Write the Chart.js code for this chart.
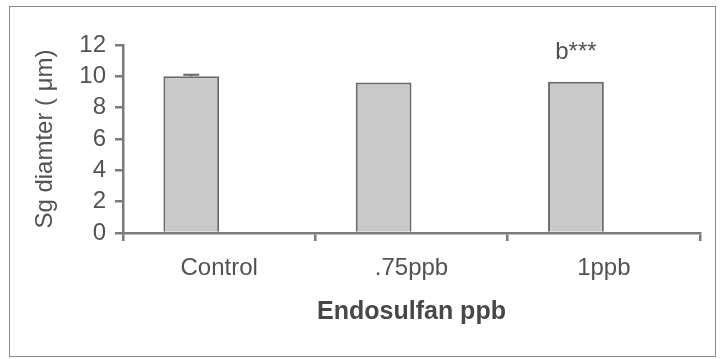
<!DOCTYPE html>
<html>
<head>
<meta charset="utf-8">
<script src="https://cdn.jsdelivr.net/npm/chart.js@4/dist/chart.umd.min.js"></script>
<style>
    body { margin: 0; background: #fff; }
    #wrap { position: relative; width: 723px; height: 359px; }
    #frame { position: absolute; left: 9px; top: 6px; width: 705px; height: 349px; border: 1.5px solid #8a8a8a; pointer-events: none; }
</style>
</head>
<body>
<div id="wrap">
    <canvas id="chart" width="723" height="359"></canvas>
    <div id="frame"></div>
</div>
<script>
const categories = ['Control', '.75ppb', '1ppb'];
const diameter = [10.0, 9.6, 9.65];
const errors = [0.1, 0, 0];
const marks = ['', '', 'b***'];
const yTicks = [0, 2, 4, 6, 8, 10, 12];

const textColor = '#525252';
const axisColor = '#7a7a7a';
const fontFamily = '"Liberation Sans", Arial, sans-serif';

// error cap + significance letters above the bars
const barExtras = {
    id: 'barExtras',
    afterDatasetsDraw(chart) {
        const ctx = chart.ctx;
        const y = chart.scales.y;
        const meta = chart.getDatasetMeta(0);
        ctx.save();
        meta.data.forEach((bar, i) => {
            if (errors[i] > 0) {
                const top = y.getPixelForValue(diameter[i] + errors[i]);
                ctx.strokeStyle = '#666';
                ctx.lineWidth = 2;
                ctx.beginPath();
                ctx.moveTo(bar.x, bar.y);
                ctx.lineTo(bar.x, top);
                ctx.moveTo(bar.x - 8, top);
                ctx.lineTo(bar.x + 8, top);
                ctx.stroke();
            }
            if (marks[i]) {
                ctx.fillStyle = textColor;
                ctx.font = '24px ' + fontFamily;
                ctx.textAlign = 'center';
                ctx.textBaseline = 'middle';
                ctx.fillText(marks[i], bar.x, bar.y - 29);
            }
        });
        ctx.restore();
    }
};

new Chart(document.getElementById('chart'), {
    type: 'bar',
    data: {
        labels: categories,
        datasets: [
            {
                data: diameter,
                backgroundColor: '#c9c9c9',
                borderColor: '#6a6a6a',
                borderWidth: 2,
                categoryPercentage: 0.58,
                barPercentage: 1.0
            },
            {
                // empty second series, keeps the bars left of the category centre
                data: [null, null, null],
                categoryPercentage: 0.58,
                barPercentage: 1.0
            }
        ]
    },
    options: {
        responsive: false,
        animation: false,
        layout: { padding: { left: 10, right: 23, top: 45, bottom: 0 } },
        plugins: {
            legend: { display: false },
            tooltip: { enabled: false }
        },
        scales: {
            x: {
                afterFit(scale) { scale.height = 126; },
                grid: { display: true, offset: true, drawOnChartArea: false, drawTicks: true, tickLength: 8, color: axisColor, lineWidth: 2.5 },
                border: { display: true, color: axisColor, width: 2.5 },
                ticks: { color: textColor, padding: 13, font: { family: fontFamily, size: 24 } },
                title: {
                    display: true,
                    text: 'Endosulfan ppb',
                    color: '#474747',
                    font: { family: fontFamily, size: 25, weight: 'bold' },
                    padding: { top: 0, bottom: 32 }
                }
            },
            y: {
                min: 0,
                max: 12,
                afterFit(scale) { scale.width = 113; },
                afterBuildTicks(scale) { scale.ticks = yTicks.map(v => ({ value: v })); },
                grid: { display: true, drawOnChartArea: false, drawTicks: true, tickLength: 8, color: axisColor, lineWidth: 2.5 },
                border: { display: true, color: axisColor, width: 2.5 },
                ticks: { autoSkip: false, color: textColor, padding: 9, font: { family: fontFamily, size: 24 } },
                title: {
                    display: true,
                    text: 'Sg diamter ( μm)',
                    color: textColor,
                    font: { family: fontFamily, size: 24 },
                    padding: { top: 21, bottom: 0 }
                }
            }
        }
    },
    plugins: [barExtras]
});
</script>
</body>
</html>
